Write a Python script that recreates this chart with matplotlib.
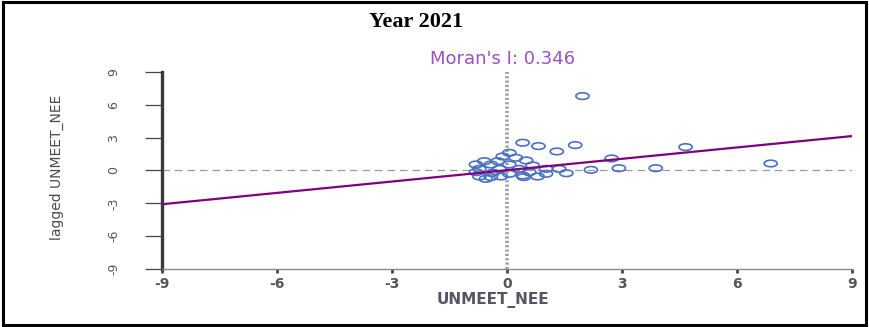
import numpy as np
import matplotlib
matplotlib.use("Agg")
import matplotlib.pyplot as plt
from matplotlib.path import Path
from matplotlib.patches import Rectangle
from matplotlib.transforms import Affine2D

# Moran scatter plot: standardized UNMEET_NEE vs its spatial lag
year_title = "Year 2021"
moran_i = 0.346
intercept = 0.03

unmeet = [1.97, 0.41, 0.82, 1.30, 1.78, 4.66, 2.73, 2.19, 2.92, 3.88, 1.55, 6.88, 0.06,
          -0.11, 0.23, -0.59, -0.24, 0.50, -0.81, -0.42, 0.06, 0.67, -0.72, -0.20,
          0.32, 1.02, 1.36, -0.81, -0.37, 0.06, 0.58, -0.72, -0.16, 0.41, 1.02, 0.80,
          -0.55, -0.42, 0.44]
lagged = [6.80, 2.54, 2.23, 1.74, 2.32, 2.14, 1.10, 0.06, 0.21, 0.21, -0.25, 0.64, 1.62,
          1.28, 1.16, 0.85, 0.85, 0.92, 0.55, 0.55, 0.55, 0.46, 0.15, 0.15,
          0.15, 0.15, 0.15, -0.15, -0.21, -0.30, -0.15, -0.55, -0.55, -0.46, -0.30, -0.55,
          -0.76, -0.60, -0.60]

ticks = [-9, -6, -3, 0, 3, 6, 9]
tick_labels = ["-9", "-6", "-3", "0", "3", "6", "9"]

fig = plt.figure(figsize=(8.69, 3.27), dpi=100)
ax = fig.add_axes([0.1864, 0.1774, 0.794, 0.6024])

# flattened circle marker
circ = Path.unit_circle()
ellipse = circ.transformed(Affine2D().scale(1.0, 0.5))

ax.axhline(0, color="#9a9a9a", lw=0.9, ls=(0, (6, 4)), zorder=1)
ax.axvline(0, color="#a0a0a0", lw=2.6, ls=(0, (0.6, 0.6)), zorder=1)

ax.scatter(unmeet, lagged, marker=ellipse, s=90, facecolors="none",
           edgecolors="#4a70c4", linewidths=1.2, zorder=3)

xs = np.array([-9, 9])
ax.plot(xs, intercept + moran_i * xs, color="#800080", lw=1.6, zorder=4)

ax.set_xlim(-9, 9)
ax.set_ylim(-9, 9)
ax.set_xticks(ticks)
ax.set_xticklabels(tick_labels)
ax.set_yticks(ticks)
ax.set_yticklabels(tick_labels, rotation=90, va="center")

for s in ["top", "right"]:
    ax.spines[s].set_visible(False)
ax.spines["left"].set_color("#3a3a3a")
ax.spines["left"].set_linewidth(2.4)
ax.spines["bottom"].set_color("#8a8a8a")
ax.spines["bottom"].set_linewidth(1.0)

ax.tick_params(axis="y", direction="out", length=12, width=0.9, color="#444444",
               pad=18, labelsize=9, labelcolor="#555555")
ax.tick_params(axis="x", direction="out", length=3, width=2, color="#444444",
               pad=3, labelsize=10, labelcolor="#555555")
for lab in ax.get_xticklabels():
    lab.set_fontweight("bold")

ax.set_xlabel("UNMEET_NEE", fontsize=11, fontweight="bold", color="#555566")
ax.xaxis.set_label_coords(0.48, -0.155)
ax.xaxis.label.set_va("center")
ax.set_ylabel("lagged UNMEET_NEE", fontsize=10, color="#4a4a55")
ax.yaxis.set_label_coords(-0.152, 0.518)
ax.yaxis.label.set_va("center")

fig.text(503 / 869, 1 - 59 / 327, f"Moran's I: {moran_i}", ha="center", va="center",
         fontsize=13, color="#9a50c4")
fig.text(416 / 869, 1 - 22 / 327, year_title, ha="center", va="center",
         fontsize=16, fontweight="bold", family="Liberation Serif")

# frame around the whole figure
fig.patches.append(Rectangle((0.003, 0.006), 0.994, 0.988, transform=fig.transFigure,
                             fill=False, edgecolor="black", linewidth=2.2))

fig.savefig("out.png", dpi=100)
